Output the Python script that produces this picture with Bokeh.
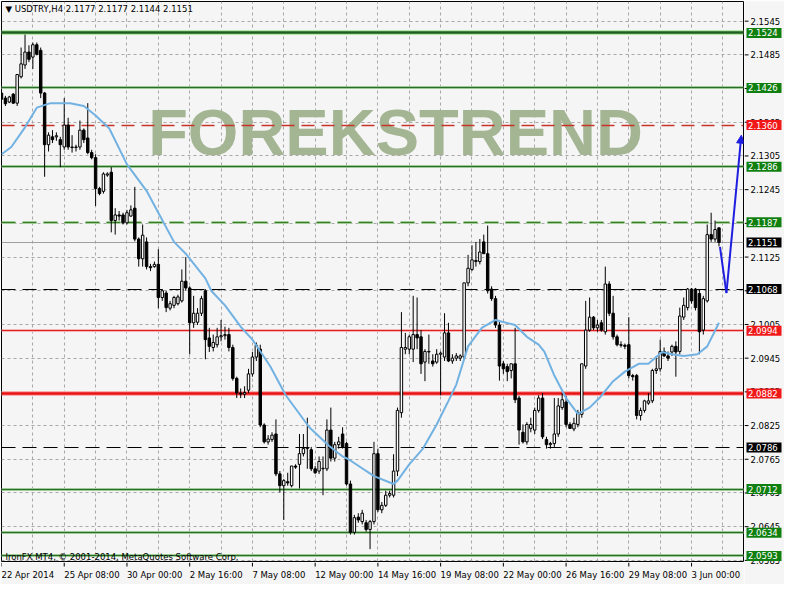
from bokeh.plotting import figure
from bokeh.layouts import column, row
from bokeh.models import Range1d, FixedTicker, Label, Arrow, NormalHead, Grid
from bokeh.core.properties import value
from bokeh.embed import file_html
from bokeh.resources import INLINE

# ---------------- data (USDTRY, H4) ----------------
opens = [2.1417,2.1408,2.1401,2.1415,2.1399,2.1446,2.1467,2.1490,2.1481,2.1503,
2.1493,2.1417,2.1325,2.1339,2.1339,2.1334,2.1321,2.1360,2.1321,2.1320,
2.1321,2.1351,2.1337,2.1311,2.1302,2.1247,2.1242,2.1271,2.1276,2.1190,
2.1200,2.1200,2.1186,2.1198,2.1212,2.1157,2.1122,2.1152,2.1108,2.1108,
2.1112,2.1053,2.1061,2.1034,2.1039,2.1042,2.1047,2.1082,2.1070,2.1008,
2.1009,2.1025,2.1065,2.0981,2.0964,2.0969,2.0983,2.0985,2.0987,2.0964,
2.0909,2.0883,2.0881,2.0888,2.0917,2.0947,2.0961,2.0826,2.0796,2.0800,
2.0810,2.0739,2.0718,2.0725,2.0718,2.0753,2.0756,2.0775,2.0784,2.0782,
2.0748,2.0744,2.0748,2.0748,2.0817,2.0767,2.0791,2.0810,2.0793,2.0721,
2.0635,2.0662,2.0654,2.0652,2.0640,2.0654,2.0775,2.0675,2.0683,2.0701,
2.0701,2.0744,2.0848,2.0961,2.0961,2.0961,2.0987,2.0983,2.0938,2.0956,
2.0940,2.0938,2.0952,2.0947,2.0990,2.0940,2.0945,2.0945,2.0947,2.1079,
2.1103,2.1117,2.1117,2.1152,2.1131,2.1068,2.1051,2.1004,2.0935,2.0930,
2.0923,2.0935,2.0874,2.0813,2.0796,2.0820,2.0817,2.0852,2.0874,2.0800,
2.0791,2.0793,2.0810,2.0857,2.0867,2.0827,2.0819,2.0827,2.0845,2.0931,
2.0995,2.1018,2.0999,2.1008,2.0992,2.1077,2.1025,2.0983,2.0969,2.0968,
2.0969,2.0914,2.0914,2.0843,2.0852,2.0865,2.0869,2.0923,2.0926,2.0957,
2.0949,2.0956,2.0966,2.0957,2.1018,2.1035,2.1068,2.1068,2.1060,2.0995,
2.1047,2.1165,2.1157,2.1177]

highs = [2.1420,2.1412,2.1412,2.1417,2.1451,2.1498,2.1521,2.1502,2.1507,2.1507,
2.1498,2.1419,2.1347,2.1351,2.1347,2.1339,2.1408,2.1373,2.1342,2.1325,
2.1368,2.1354,2.1399,2.1316,2.1308,2.1250,2.1276,2.1276,2.1285,2.1212,
2.1207,2.1204,2.1209,2.1217,2.1250,2.1160,2.1183,2.1160,2.1113,2.1117,
2.1139,2.1068,2.1065,2.1047,2.1056,2.1058,2.1103,2.1125,2.1073,2.1056,
2.1034,2.1056,2.1068,2.0999,2.0987,2.0999,2.1013,2.1001,2.0999,2.0969,
2.0912,2.0891,2.0895,2.0926,2.0956,2.0973,2.0969,2.0829,2.0808,2.0813,
2.0836,2.0744,2.0730,2.0741,2.0753,2.0756,2.0810,2.0810,2.0839,2.0787,
2.0753,2.0770,2.0770,2.0836,2.0857,2.0796,2.0805,2.0822,2.0796,2.0727,
2.0666,2.0669,2.0675,2.0657,2.0657,2.0796,2.0784,2.0689,2.0709,2.0709,
2.0774,2.0857,2.1027,2.0990,2.0987,2.1056,2.1053,2.0995,2.0961,2.0987,
2.0952,2.0961,2.0957,2.1025,2.1008,2.0952,2.0954,2.0952,2.1079,2.1129,
2.1146,2.1152,2.1157,2.1165,2.1181,2.1073,2.1056,2.1013,2.0940,2.0935,
2.0935,2.0999,2.0878,2.0827,2.0831,2.0839,2.0857,2.0879,2.0883,2.0805,
2.0796,2.0874,2.0874,2.0883,2.0878,2.0831,2.0839,2.0853,2.0935,2.1047,
2.1053,2.1020,2.1013,2.1013,2.1108,2.1082,2.1056,2.0987,2.0975,2.0971,
2.1018,2.0917,2.0917,2.0857,2.0871,2.0883,2.0926,2.0949,2.0978,2.0964,
2.0957,2.0969,2.0975,2.1035,2.1053,2.1070,2.1070,2.1070,2.1068,2.1056,
2.1183,2.1204,2.1190,2.1177]

lows = [2.1377,2.1394,2.1399,2.1398,2.1394,2.1443,2.1460,2.1472,2.1460,2.1484,
2.1408,2.1268,2.1313,2.1328,2.1332,2.1285,2.1316,2.1316,2.1311,2.1313,
2.1316,2.1328,2.1308,2.1299,2.1216,2.1235,2.1238,2.1268,2.1169,2.1165,
2.1190,2.1183,2.1183,2.1197,2.1153,2.1108,2.1108,2.1103,2.1100,2.1106,
2.1034,2.1047,2.1027,2.1030,2.1034,2.1039,2.1044,2.1065,2.0952,2.0999,
2.1004,2.1020,2.0943,2.0956,2.0957,2.0964,2.0975,2.0978,2.0957,2.0905,
2.0874,2.0874,2.0874,2.0883,2.0912,2.0940,2.0822,2.0793,2.0791,2.0796,
2.0735,2.0706,2.0657,2.0718,2.0715,2.0748,2.0713,2.0770,2.0748,2.0744,
2.0739,2.0739,2.0701,2.0744,2.0761,2.0761,2.0784,2.0784,2.0718,2.0631,
2.0631,2.0652,2.0649,2.0636,2.0605,2.0649,2.0671,2.0669,2.0680,2.0697,
2.0697,2.0735,2.0839,2.0952,2.0952,2.0938,2.0961,2.0917,2.0904,2.0935,
2.0930,2.0935,2.0879,2.0940,2.0938,2.0935,2.0940,2.0940,2.0943,2.1073,
2.1100,2.1108,2.1112,2.1131,2.1060,2.1047,2.0999,2.0905,2.0917,2.0904,
2.0909,2.0865,2.0791,2.0793,2.0791,2.0813,2.0810,2.0848,2.0801,2.0784,
2.0784,2.0787,2.0805,2.0853,2.0822,2.0819,2.0815,2.0822,2.0839,2.0926,
2.0992,2.0995,2.0992,2.0992,2.0987,2.1020,2.0978,2.0966,2.0964,2.0961,
2.0909,2.0905,2.0836,2.0834,2.0848,2.0862,2.0865,2.0917,2.0921,2.0947,
2.0940,2.0949,2.0912,2.0952,2.1013,2.1030,2.1042,2.1030,2.0952,2.0987,
2.1044,2.1152,2.1152,2.1144]

closes = [2.1406,2.1398,2.1410,2.1399,2.1450,2.1469,2.1490,2.1477,2.1503,2.1486,
2.1417,2.1325,2.1342,2.1334,2.1341,2.1325,2.1360,2.1321,2.1320,2.1321,
2.1351,2.1334,2.1311,2.1302,2.1247,2.1238,2.1273,2.1273,2.1190,2.1200,
2.1198,2.1186,2.1204,2.1209,2.1157,2.1122,2.1164,2.1108,2.1106,2.1112,
2.1053,2.1065,2.1035,2.1042,2.1053,2.1054,2.1082,2.1070,2.1008,2.1025,
2.1025,2.1051,2.0978,2.0966,2.0973,2.0983,2.0985,2.0987,2.0964,2.0909,
2.0883,2.0881,2.0884,2.0917,2.0947,2.0968,2.0826,2.0796,2.0801,2.0808,
2.0739,2.0718,2.0727,2.0723,2.0753,2.0751,2.0775,2.0784,2.0786,2.0748,
2.0741,2.0761,2.0749,2.0817,2.0767,2.0791,2.0796,2.0787,2.0721,2.0635,
2.0661,2.0657,2.0669,2.0640,2.0654,2.0775,2.0675,2.0683,2.0701,2.0704,
2.0744,2.0852,2.0964,2.0964,2.0983,2.0987,2.0981,2.0935,2.0957,2.0957,
2.0935,2.0952,2.0954,2.0990,2.0940,2.0945,2.0949,2.0949,2.1079,2.1105,
2.1120,2.1119,2.1134,2.1131,2.1065,2.1051,2.1004,2.0931,2.0926,2.0921,
2.0935,2.0871,2.0817,2.0796,2.0827,2.0827,2.0852,2.0874,2.0805,2.0791,
2.0793,2.0810,2.0860,2.0871,2.0827,2.0820,2.0829,2.0848,2.0935,2.0995,
2.1018,2.0999,2.1004,2.0995,2.1077,2.1025,2.0983,2.0969,2.0968,2.0966,
2.0914,2.0912,2.0843,2.0852,2.0869,2.0869,2.0923,2.0926,2.0957,2.0949,
2.0945,2.0966,2.0956,2.1020,2.1039,2.1068,2.1047,2.1035,2.0992,2.1051,
2.1165,2.1157,2.1174,2.1151]

# moving average (light blue), read at bar positions
ma_bars = [0,2.5,6,9,12.5,17.5,21,24,27.5,32,37,40,44,47,52,53.5,57,61,64,68.5,
           72.5,78.5,83.5,87,88.5,95,100,101,104,107.5,111,114,116,119,122.5,126,131,134,137,138.5,
           141,144,147,150,152.5,156,159,162.5,165,168.5,171,174,177.5,180,183]
ma_vals = [2.1308,2.1321,2.1356,2.1391,2.1399,2.1399,2.1394,2.1377,2.1354,2.1290,
           2.1243,2.1204,2.1152,2.1131,2.1087,2.1065,2.1039,2.1001,2.0978,2.0931,
           2.0879,2.0822,2.0789,2.0770,2.0765,2.0735,2.0721,2.0727,2.0756,2.0784,
           2.0827,2.0869,2.0898,2.0966,2.0999,2.1013,2.1004,2.0983,2.0969,2.0956,
           2.0914,2.0874,2.0846,2.0857,2.0874,2.0904,2.0921,2.0935,2.0935,2.0956,
           2.0952,2.0949,2.0952,2.0966,2.1008]

# horizontal levels
green_solid = [2.1426, 2.1286, 2.0712, 2.0634, 2.0593]
green_thick = [2.1524]
green_dash = [2.1187]
red_dash = [2.1360]
red_thin = [2.0994]
red_thick = [2.0882]
black_dash = [2.1068, 2.0786]
bid_level = [2.1151]

box_vals = [2.1524, 2.1426, 2.1360, 2.1286, 2.1187, 2.1151, 2.1068, 2.0994, 2.0882, 2.0786, 2.0712, 2.0634, 2.0593]
box_kind = ["g", "g", "r", "g", "g", "k", "k", "r", "r", "k", "g", "g", "g"]

# forecast arrow (bar index, price)
arrow_x = [183.25, 184.9, 188.7]
arrow_y = [2.1143, 2.1061, 2.1342]

# axes
ytick_vals = [2.1545, 2.1485, 2.1425, 2.1365, 2.1305, 2.1245, 2.1185, 2.1125, 2.1065,
              2.1005, 2.0945, 2.0885, 2.0825, 2.0765, 2.0705, 2.0645, 2.0585]
xtick_bars = [0, 16, 32, 48, 64, 80, 96, 112, 128, 144, 160, 176]
xtick_labels = ["22 Apr 2014", "25 Apr 08:00", "30 Apr 00:00", "2 May 16:00", "7 May 08:00",
                "12 May 00:00", "14 May 16:00", "19 May 08:00", "22 May 00:00", "26 May 16:00",
                "29 May 08:00", "3 Jun 00:00"]
grid_bars = [8 * k for k in range(1, 24)]

header = "\u25bc USDTRY,H4  2.1177 2.1177 2.1144 2.1151"
footer = "IronFX MT4, \u00a9 2001-2014, MetaQuotes Software Corp."
watermark = "FOREKSTREND"

# ---------------- styling ----------------
BG = "#f5f5f5"
FONT = "DejaVu Sans"
FS = "8.5px"
X_END = 189.25
Y0, Y1 = 2.0583, 2.1580
MAIN_W, MAIN_H = 744, 562
SIDE_W, BOT_H = 40, 22

xr = Range1d(0, X_END)
yr = Range1d(Y0, Y1)

# ---------------- main chart ----------------
p = figure(width=MAIN_W, height=MAIN_H, output_backend="svg", toolbar_location=None,
           x_range=xr, y_range=yr, x_axis_location=None, y_axis_location=None,
           background_fill_color=BG, border_fill_color=BG,
           min_border_left=1, min_border_right=1, min_border_top=1, min_border_bottom=1)
p.outline_line_color = "black"
p.outline_line_width = 1
for g in p.grid:
    g.visible = False
for dim, ticks in ((0, grid_bars), (1, ytick_vals)):
    p.add_layout(Grid(dimension=dim, ticker=FixedTicker(ticks=ticks), grid_line_color="#a8a8a8",
                      grid_line_dash="3 3", grid_line_width=1))

# watermark (beneath levels and candles)
p.text(x=[100.5], y=[2.1346], text=[watermark], text_font=value("Liberation Sans"),
       text_font_style="bold", text_font_size="65px", text_color="#a3b593",
       text_align="center", text_baseline="middle")

# levels
p.hspan(y=green_thick, line_color="#b5e6aa", line_width=5)
p.hspan(y=green_thick, line_color="#1e5e1e", line_width=2.5)
p.hspan(y=green_solid, line_color="#c4eabb", line_width=3)
p.hspan(y=green_solid, line_color="#2a6e2a", line_width=1.5)
p.hspan(y=green_dash, line_color="#c4eabb", line_width=3, line_dash="14 7")
p.hspan(y=green_dash, line_color="#3a7a2a", line_width=1.5, line_dash="14 7")
p.hspan(y=red_dash, line_color="#c8342a", line_width=1.5, line_dash="13 7")
p.hspan(y=red_thin, line_color="#f5b5b5", line_width=3)
p.hspan(y=red_thin, line_color="#e02020", line_width=1)
p.hspan(y=red_thick, line_color="#f5b0b0", line_width=5)
p.hspan(y=red_thick, line_color="#e81010", line_width=2.5)
p.hspan(y=black_dash, line_color="black", line_width=1.2, line_dash="14 7")
p.hspan(y=bid_level, line_color="#a0a0a0", line_width=1)

# candles
bars = list(range(len(closes)))
up = [i for i in bars if closes[i] >= opens[i]]
dn = [i for i in bars if closes[i] < opens[i]]
p.segment(x0=bars, y0=lows, x1=bars, y1=highs, line_color="black", line_width=1)
p.vbar(x=up, width=0.62, top=[closes[i] for i in up], bottom=[opens[i] for i in up],
       fill_color="white", line_color="black", line_width=1)
p.vbar(x=dn, width=0.62, top=[opens[i] for i in dn], bottom=[closes[i] for i in dn],
       fill_color="black", line_color="black", line_width=1)

# moving average
p.line(ma_bars, ma_vals, line_color="#72b2e2", line_width=2)

# forecast arrow
AC = "#1e1ee0"
p.line(arrow_x[:2], arrow_y[:2], line_color=AC, line_width=2)
p.add_layout(Arrow(end=NormalHead(size=8, fill_color=AC, line_color=AC),
                   x_start=arrow_x[1], y_start=arrow_y[1], x_end=arrow_x[2], y_end=arrow_y[2],
                   line_color=AC, line_width=2))

# header and footer
p.add_layout(Label(x=1.0, y=2.1567, text=header, text_font=FONT, text_font_size=FS,
                   text_color="black", text_baseline="middle"))
p.add_layout(Label(x=1.0, y=2.0591, text=footer, text_font=FONT, text_font_size=FS,
                   text_color="black", text_baseline="middle"))

# ---------------- bottom time scale ----------------
pb = figure(width=MAIN_W, height=BOT_H, output_backend="svg", toolbar_location=None,
            x_range=xr, y_range=Range1d(0, BOT_H), x_axis_location=None, y_axis_location=None,
            background_fill_color=BG, border_fill_color=BG,
            min_border_left=1, min_border_right=1, min_border_top=0, min_border_bottom=0)
pb.outline_line_color = None
for g in pb.grid:
    g.visible = False
pb.segment(x0=xtick_bars, y0=[BOT_H] * len(xtick_bars), x1=xtick_bars, y1=[BOT_H - 4] * len(xtick_bars),
           line_color="black", line_width=1)
pb.text(x=xtick_bars, y=[BOT_H - 12] * len(xtick_bars), text=xtick_labels,
        text_font=value(FONT), text_font_size=FS, text_color="black",
        text_align="left", text_baseline="middle")

# ---------------- right price scale (spans chart + time scale height) ----------------
per_px = (Y1 - Y0) / (MAIN_H - 2)
pr = figure(width=SIDE_W, height=MAIN_H + BOT_H, output_backend="svg", toolbar_location=None,
            x_range=Range1d(0, SIDE_W), y_range=Range1d(Y0 - (BOT_H + 1) * per_px, Y1),
            x_axis_location=None, y_axis_location=None,
            background_fill_color=BG, border_fill_color=BG,
            min_border_left=0, min_border_right=0, min_border_top=1, min_border_bottom=0)
pr.outline_line_color = None
for g in pr.grid:
    g.visible = False
pr.segment(x0=[0] * len(ytick_vals), y0=ytick_vals, x1=[4] * len(ytick_vals), y1=ytick_vals,
           line_color="black", line_width=1)
pr.text(x=[6] * len(ytick_vals), y=ytick_vals, text=[f"{v:.4f}" for v in ytick_vals],
        text_font=value(FONT), text_font_size=FS, text_color="black",
        text_align="left", text_baseline="middle")
box_colors = {"g": "#0f7f0f", "r": "#f01818", "k": "#000000"}
pr.rect(x=[19.5] * len(box_vals), y=box_vals, width=35, height=10, width_units="screen",
        height_units="screen", fill_color=[box_colors[k] for k in box_kind], line_color=None)
pr.text(x=[3.5] * len(box_vals), y=box_vals, text=[f"{v:.4f}" for v in box_vals],
        text_font=value(FONT), text_font_size=FS, text_color="white",
        text_align="left", text_baseline="middle")

layout = row(column(p, pb), pr)
open("out.html", "w").write(file_html(layout, INLINE))
